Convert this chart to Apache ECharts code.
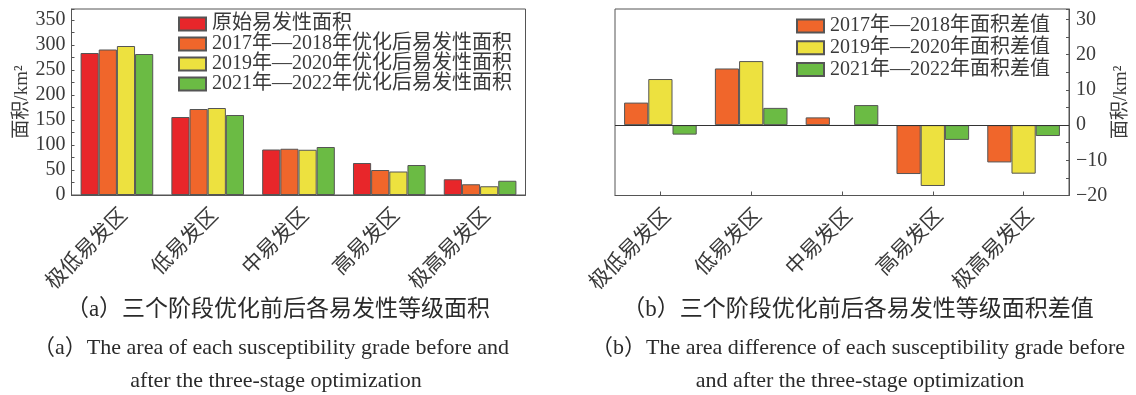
<!DOCTYPE html>
<html>
<head>
<meta charset="utf-8">
<script src="https://cdn.jsdelivr.net/npm/echarts@6/dist/echarts.min.js"></script>
<style>
html,body{margin:0;padding:0;background:#fff;}
#c{width:1136px;height:395px;}
</style>
</head>
<body>
<div id="c"></div>
<script>
// ---- data ----
const categories = ['极低易发区', '低易发区', '中易发区', '高易发区', '极高易发区'];
const seriesNamesA = ['原始易发性面积', '2017年—2018年优化后易发性面积', '2019年—2020年优化后易发性面积', '2021年—2022年优化后易发性面积'];
const original = [284, 156, 91, 64, 31.5];
const opt1718 = [291, 172, 92.5, 50, 21.5];
const opt1920 = [298, 174, 90.5, 47, 17.5];
const opt2122 = [282, 160, 96, 60, 28.5];
const seriesNamesB = ['2017年—2018年面积差值', '2019年—2020年面积差值', '2021年—2022年面积差值'];
const diff1718 = [6.4, 16.1, 2.2, -13.9, -10.6];
const diff1920 = [13.1, 18.2, -0.2, -17.3, -13.8];
const diff2122 = [-2.7, 4.9, 5.7, -4.2, -3.1];
const axisA = { min: 0, max: 372, minor: 25, major: 50 };
const axisB = { min: -20, max: 33, minor: 5, major: 10 };
const captions = {
  aCn: '（a）三个阶段优化前后各易发性等级面积',
  aEn1: '（a）The area of each susceptibility grade before and',
  aEn2: 'after the three-stage optimization',
  bCn: '（b）三个阶段优化前后各易发性等级面积差值',
  bEn1: '（b）The area difference of each susceptibility grade before',
  bEn2: 'and after the three-stage optimization'
};

// ---- style ----
const FONT = "'Liberation Serif','Noto Sans CJK SC'";
const TXT = '#3a3a3a';
const colorsA = ['#e8262a', '#f0662b', '#ede13f', '#6bbb44'];
const colorsB = ['#f0662b', '#ede13f', '#6bbb44'];
const edge = '#555';

function tickFmt(step) {
  return function (v) {
    if (Math.abs(v % step) > 1e-9) return '';
    return v < 0 ? '\u2212' + Math.abs(v) : String(v);
  };
}

const chart = echarts.init(document.getElementById('c'), null, { renderer: 'canvas' });

const seriesA = [original, opt1718, opt1920, opt2122].map((d, i) => ({
  name: seriesNamesA[i], type: 'bar', xAxisIndex: 0, yAxisIndex: 0, data: d,
  barGap: '0%', barCategoryGap: '20%',
  itemStyle: { color: colorsA[i], borderColor: edge, borderWidth: 1 }
}));
const seriesB = [diff1718, diff1920, diff2122].map((d, i) => ({
  name: seriesNamesB[i], type: 'bar', xAxisIndex: 1, yAxisIndex: 1, data: d,
  barGap: '0%', barCategoryGap: '20%',
  itemStyle: { color: colorsB[i], borderColor: edge, borderWidth: 1 }
}));
seriesB[0].markLine = {
  silent: true, symbol: 'none', label: { show: false },
  lineStyle: { color: '#333', width: 1, type: 'solid' },
  data: [{ yAxis: 0 }]
};

const captionStyle = (size) => ({ fill: '#2a2a2a', font: size + 'px ' + FONT, textAlign: 'center', textVerticalAlign: 'middle' });

chart.setOption({
  animation: false,
  grid: [
    { left: 71.5, right: 610.5, top: 9, bottom: 200, show: true, borderColor: edge, borderWidth: 1 },
    { left: 615, right: 67, top: 9, bottom: 199.5, show: true, borderColor: edge, borderWidth: 1 }
  ],
  legend: [
    {
      data: seriesNamesA, orient: 'vertical', left: 178, top: 14, padding: 0, icon: 'rect',
      itemWidth: 27, itemHeight: 13, itemGap: 0,
      textStyle: { fontFamily: FONT, fontSize: 20, color: TXT, lineHeight: 19, padding: [0, 0, 0, 1] }
    },
    {
      data: seriesNamesB, orient: 'vertical', left: 796, top: 16, padding: 0, icon: 'rect',
      itemWidth: 27, itemHeight: 13, itemGap: 1.7,
      textStyle: { fontFamily: FONT, fontSize: 20, color: TXT, lineHeight: 20, padding: [0, 0, 0, 1] }
    }
  ],
  xAxis: [
    {
      type: 'category', gridIndex: 0, data: categories,
      axisLine: { lineStyle: { color: edge } },
      axisTick: { show: false },
      axisLabel: { rotate: 45, margin: 10, verticalAlign: 'top', fontFamily: FONT, fontSize: 21, color: TXT }
    },
    {
      type: 'category', gridIndex: 1, data: categories,
      axisLine: { onZero: false, lineStyle: { color: edge } },
      axisTick: { show: true, inside: true, length: 4, alignWithLabel: true, lineStyle: { color: edge } },
      axisLabel: { rotate: 45, margin: 10, verticalAlign: 'top', fontFamily: FONT, fontSize: 21, color: TXT }
    }
  ],
  yAxis: [
    {
      type: 'value', gridIndex: 0, min: axisA.min, max: axisA.max, interval: axisA.minor,
      name: '面积/km²', nameLocation: 'middle', nameGap: 40, nameRotate: 90,
      nameTextStyle: { fontFamily: FONT, fontSize: 19, color: TXT },
      axisLine: { show: true, lineStyle: { color: edge } },
      axisTick: { show: true, inside: true, length: 3, lineStyle: { color: edge } },
      splitLine: { show: false },
      axisLabel: { margin: 6, fontFamily: FONT, fontSize: 20, color: TXT, formatter: tickFmt(axisA.major) }
    },
    {
      type: 'value', gridIndex: 1, position: 'right', min: axisB.min, max: axisB.max, interval: axisB.minor,
      name: '面积/km²', nameLocation: 'middle', nameGap: 41, nameRotate: 90,
      nameTextStyle: { fontFamily: FONT, fontSize: 19, color: TXT },
      axisLine: { show: true, lineStyle: { color: edge } },
      axisTick: { show: true, inside: true, length: 3, lineStyle: { color: edge } },
      splitLine: { show: false },
      axisLabel: { margin: 7, fontFamily: FONT, fontSize: 20, color: TXT, formatter: tickFmt(axisB.major) }
    }
  ],
  series: seriesA.concat(seriesB),
  graphic: [
    { type: 'text', x: 278, y: 310, style: Object.assign({ text: captions.aCn }, captionStyle(23)) },
    { type: 'text', x: 271, y: 348, style: Object.assign({ text: captions.aEn1 }, captionStyle(22)) },
    { type: 'text', x: 276, y: 381, style: Object.assign({ text: captions.aEn2 }, captionStyle(22)) },
    { type: 'text', x: 858, y: 310, style: Object.assign({ text: captions.bCn }, captionStyle(23)) },
    { type: 'text', x: 858, y: 348, style: Object.assign({ text: captions.bEn1 }, captionStyle(22)) },
    { type: 'text', x: 860, y: 381, style: Object.assign({ text: captions.bEn2 }, captionStyle(22)) }
  ]
});
</script>
</body>
</html>
